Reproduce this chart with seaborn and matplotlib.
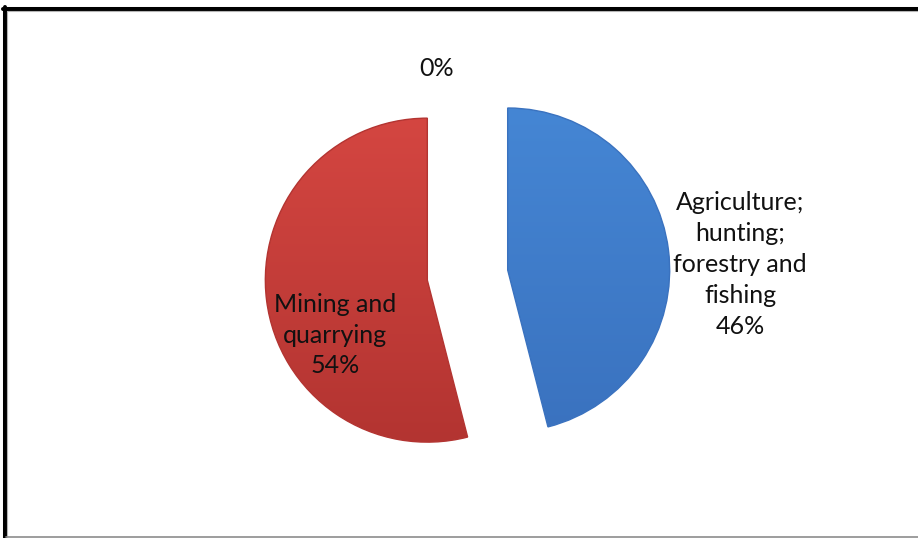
import numpy as np
import matplotlib
matplotlib.use("Agg")
import matplotlib.pyplot as plt
import seaborn as sns
from matplotlib.colors import LinearSegmentedColormap
from matplotlib.lines import Line2D

# Sector shares (percent), in drawing order from 12 o'clock, clockwise
sectors = ["Agriculture;\nhunting;\nforestry and\nfishing", "Mining and\nquarrying", ""]
shares = [46, 54, 0]
top_colors = ["#4586D4", "#D44641", "#9BBB59"]
bottom_colors = ["#3A72BF", "#B33431", "#76923C"]

sns.set_theme(style="white")
plt.rcParams["font.family"] = ["Lato", "DejaVu Sans"]

fig = plt.figure(figsize=(9.18, 5.38), dpi=100)
ax = fig.add_axes([0, 0, 1, 1])

palette = sns.color_palette(top_colors)
wedges, _ = ax.pie(
    shares,
    startangle=90,
    counterclock=False,
    explode=[0.25] * len(shares),
    radius=1,
    colors=palette,
    wedgeprops=dict(linewidth=0),
)

# vertical gradient fill clipped to each slice, with a soft darker rim
grad = np.linspace(0, 1, 256).reshape(-1, 1)
for w, c_top, c_bot, v in zip(wedges, top_colors, bottom_colors, shares):
    if v == 0:
        continue
    cx, cy = w.center
    cmap = LinearSegmentedColormap.from_list("slice", [c_bot, c_top])
    im = ax.imshow(grad, cmap=cmap, origin="lower", aspect="auto",
                   extent=(cx - 1, cx + 1, cy - 1, cy + 1),
                   interpolation="bilinear", zorder=w.get_zorder() + 0.1)
    im.set_clip_path(w)
    w.set_edgecolor(c_bot)
    w.set_linewidth(1.0)
    w.set_zorder(w.get_zorder() + 0.2)
    w.set_facecolor("none")

# data labels: category name and percentage
label_pos = [(1.682, 0.068), (-0.818, -0.370), (-0.188, 1.278)]
for name, v, (lx, ly) in zip(sectors, shares, label_pos):
    txt = f"{name}\n{v}%" if name else f"{v}%"
    ax.text(lx, ly, txt, ha="center", va="center", fontsize=18,
            color="#111111", linespacing=1.42, zorder=5)

ax.set_xlim(-2.886, 2.781)
ax.set_ylim(-1.623, 1.698)
ax.set_aspect("equal")
ax.axis("off")

# chart border
W, H = 918, 538
def fx(px): return px / W
def fy(py): return 1 - py / H
fig.add_artist(Line2D([fx(3), fx(918)], [fy(8.5), fy(8.5)], color="black", lw=2.9, transform=fig.transFigure))
fig.add_artist(Line2D([fx(4.5), fx(4.5)], [fy(7), fy(538)], color="black", lw=2.9, transform=fig.transFigure))
fig.add_artist(Line2D([fx(7), fx(918)], [fy(11), fy(11)], color="#b4b4b4", lw=0.8, transform=fig.transFigure))
fig.add_artist(Line2D([fx(7), fx(7)], [fy(11), fy(538)], color="#b4b4b4", lw=0.8, transform=fig.transFigure))
fig.add_artist(Line2D([fx(6), fx(918)], [fy(536.5), fy(536.5)], color="#8c8c8c", lw=1.2, transform=fig.transFigure))

fig.savefig("out.png", dpi=100, facecolor="white")
